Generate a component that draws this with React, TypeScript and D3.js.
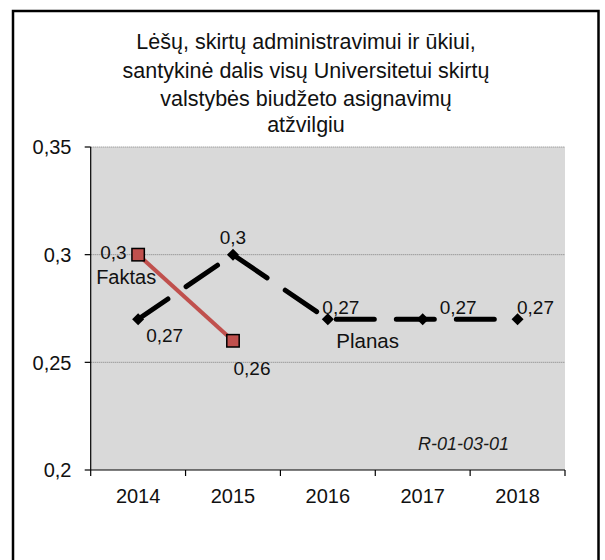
import React from "react";
import * as d3 from "d3";

const titleLines = [
  "Lėšų, skirtų administravimui ir ūkiui,",
  "santykinė dalis visų Universitetui skirtų",
  "valstybės biudžeto asignavimų",
  "atžvilgiu",
];
const titleBaselines = [49, 77.5, 106, 131.5];
const years = ["2014", "2015", "2016", "2017", "2018"];
const faktasYears = ["2014", "2015"];
const faktasValues = [0.3, 0.26];
const planasValues = [0.27, 0.3, 0.27, 0.27, 0.27];
const yTicks = [0.2, 0.25, 0.3, 0.35];
const gridTicks = [0.25, 0.3, 0.35];
const codeLabel = "R-01-03-01";

// label placement (dx, dy, anchor) relative to the point
const planasLabelPos: [number, number, string][] = [
  [8, 23, "start"],
  [0, -10.5, "middle"],
  [-5.5, -5.4, "start"],
  [17, -5.4, "start"],
  [-0.6, -5.4, "start"],
];
const faktasLabelPos: [number, number, string][] = [
  [-11.5, 4.3, "end"],
  [0.5, 34, "start"],
];

const W = 605;
const H = 560;
const plot = { left: 90.7, right: 565, top: 147, bottom: 470 };
const FONT = "'Liberation Sans', Arial, sans-serif";
const RED = "#C0504D";

const fmt = (v: number) => String(v).replace(".", ",");

export default function App() {
  const x = d3
    .scaleBand<string>()
    .domain(years)
    .range([plot.left, plot.right])
    .padding(0);
  const y = d3.scaleLinear().domain([0.2, 0.35]).range([plot.bottom, plot.top]);
  const cx = (yr: string) => (x(yr) as number) + x.bandwidth() / 2;

  const planasPts: [number, number][] = years.map((yr, i) => [cx(yr), y(planasValues[i])]);
  const faktasPts: [number, number][] = faktasYears.map((yr, i) => [cx(yr), y(faktasValues[i])]);
  const line = d3.line();

  const diamond = d3.symbol().type(d3.symbolDiamond2).size(2 * 6.8 * 6.8)();

  const boundaries = years.map((yr) => x(yr) as number).concat([plot.right]);

  return (
    <svg
      width={W}
      height={H}
      style={{ position: "absolute", left: 0, top: 0, background: "#fff" }}
      fontFamily={FONT}
    >
      <rect x={0} y={0} width={W} height={H} fill="#fff" />
      {/* title */}
      {titleLines.map((t, i) => (
        <text key={i} x={306} y={titleBaselines[i]} textAnchor="middle" fontSize={21.5} fill="#111">
          {t}
        </text>
      ))}
      {/* plot background */}
      <rect
        x={plot.left}
        y={plot.top}
        width={plot.right - plot.left}
        height={plot.bottom - plot.top}
        fill="#D9D9D9"
      />
      {/* gridlines */}
      {gridTicks.map((t) => (
        <line
          key={t}
          x1={plot.left}
          x2={plot.right}
          y1={y(t)}
          y2={y(t)}
          stroke="#7f7f7f"
          strokeWidth={1}
          strokeDasharray="1 1"
        />
      ))}
      {/* y axis */}
      <line x1={plot.left} x2={plot.left} y1={plot.top} y2={plot.bottom} stroke="#000" strokeWidth={1.2} />
      {yTicks.map((t) => (
        <g key={t}>
          <line x1={plot.left - 6} x2={plot.left} y1={y(t)} y2={y(t)} stroke="#000" strokeWidth={1.2} />
          <text x={71.5} y={y(t)} dy="0.36em" textAnchor="end" fontSize={20} fill="#111">
            {fmt(t)}
          </text>
        </g>
      ))}
      {/* x axis */}
      <line x1={plot.left} x2={plot.right} y1={plot.bottom} y2={plot.bottom} stroke="#000" strokeWidth={1.2} />
      {boundaries.map((b, i) => (
        <line key={i} x1={b} x2={b} y1={plot.bottom} y2={plot.bottom + 6} stroke="#000" strokeWidth={1.2} />
      ))}
      {years.map((yr) => (
        <text key={yr} x={cx(yr)} y={503} textAnchor="middle" fontSize={20} fill="#111">
          {yr}
        </text>
      ))}
      {/* Planas line */}
      <path
        d={line(planasPts) as string}
        fill="none"
        stroke="#000"
        strokeWidth={5}
        strokeDasharray="38 22"
        strokeDashoffset={2}
        strokeLinecap="round"
        strokeLinejoin="round"
      />
      {planasPts.map((p, i) => (
        <path key={i} d={diamond as string} transform={`translate(${p[0]},${p[1]})`} fill="#000" />
      ))}
      {/* Faktas line */}
      <path d={line(faktasPts) as string} fill="none" stroke={RED} strokeWidth={4} />
      {faktasPts.map((p, i) => (
        <rect
          key={i}
          x={p[0] - 6.2}
          y={p[1] - 6.2}
          width={12.4}
          height={12.4}
          fill={RED}
          stroke="#000"
          strokeWidth={1.5}
        />
      ))}
      {/* data labels */}
      {planasPts.map((p, i) => (
        <text
          key={"pl" + i}
          x={p[0] + planasLabelPos[i][0]}
          y={p[1] + planasLabelPos[i][1]}
          textAnchor={planasLabelPos[i][2] as any}
          fontSize={19}
          fill="#111"
        >
          {fmt(planasValues[i])}
        </text>
      ))}
      {faktasPts.map((p, i) => (
        <text
          key={"fl" + i}
          x={p[0] + faktasLabelPos[i][0]}
          y={p[1] + faktasLabelPos[i][1]}
          textAnchor={faktasLabelPos[i][2] as any}
          fontSize={19}
          fill="#111"
        >
          {fmt(faktasValues[i])}
        </text>
      ))}
      {/* series name labels */}
      <text x={faktasPts[0][0] - 42} y={faktasPts[0][1] + 29.6} fontSize={20} fill="#111">
        Faktas
      </text>
      <text x={planasPts[2][0] + 8.5} y={planasPts[2][1] + 29} fontSize={20.5} fill="#111">
        Planas
      </text>
      {/* code label */}
      <text x={418} y={450} fontSize={18} fontStyle="italic" fill="#1a1a1a">
        {codeLabel}
      </text>
      {/* outer border */}
      <rect x={13} y={11} width={585.5} height={H + 20} fill="none" stroke="#000" strokeWidth={2.5} />
    </svg>
  );
}
